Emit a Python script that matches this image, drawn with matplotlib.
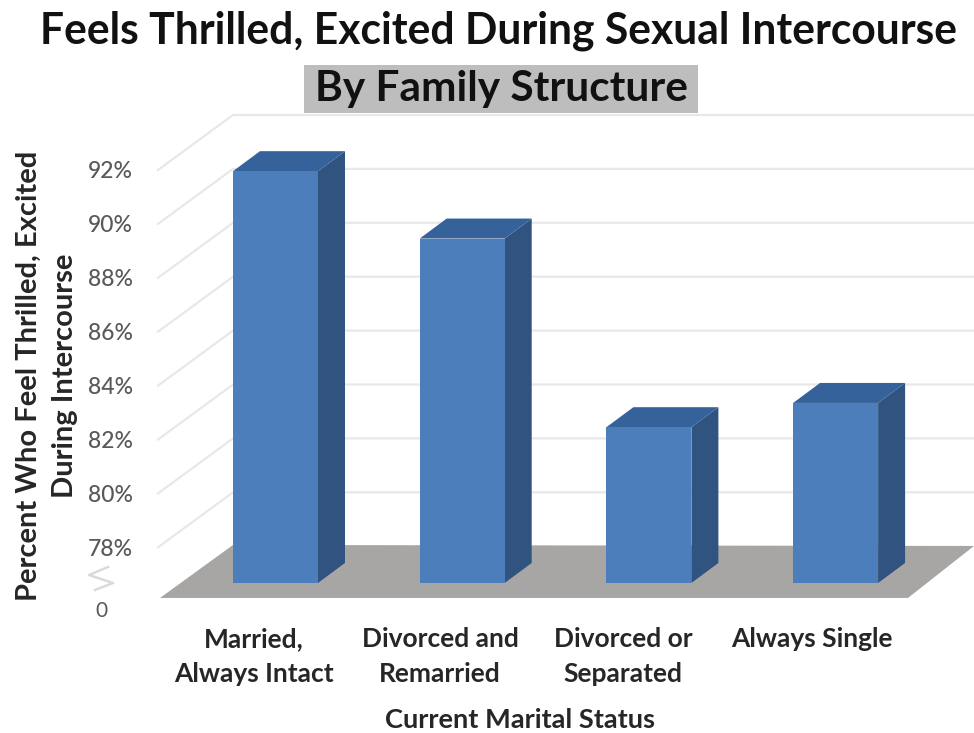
import matplotlib
matplotlib.use("Agg")
import matplotlib.pyplot as plt
from matplotlib.patches import Polygon, Rectangle

categories = ["Married,\nAlways Intact", "Divorced and\nRemarried", "Divorced or\nSeparated", "Always Single\n"]
values = [91.4, 88.9, 81.9, 82.8]
tick_values = [78, 80, 82, 84, 86, 88, 90, 92]
tick_labels = ["78%", "80%", "82%", "84%", "86%", "88%", "90%", "92%"]
floor_value = 76.12
title = "Feels Thrilled, Excited During Sexual Intercourse"
subtitle = "By Family Structure"
xlabel = "Current Marital Status"
ylabel = "Percent Who Feel Thrilled, Excited\nDuring Intercourse"

W, H = 974, 733
PX_X = 186.7      # pixels per category
PX_Y = 26.95      # pixels per percent
X0 = 275.5        # pixel of category 0 centre
Y92 = 170.0       # pixel of 92% at the front plane
plt.rcParams['font.family'] = ['Lato', 'DejaVu Sans']

fig = plt.figure(figsize=(W / 100, H / 100), dpi=100)
fig.patch.set_facecolor("white")
L, R, T, B = 158, 974, 100, 612
ax = fig.add_axes([L / W, 1 - B / H, (R - L) / W, (B - T) / H])
ax.set_xlim((L - X0) / PX_X, (R - X0) / PX_X)
ax.set_ylim(92 - (B - Y92) / PX_Y, 92 + (Y92 - T) / PX_Y)
ax.patch.set_alpha(0)
for s in ax.spines.values():
    s.set_visible(False)


def off(i, v, dx=0.0, dy=0.0):
    """Data position shifted by dx,dy pixels (dy positive = up)."""
    return (i + dx / PX_X, v + dy / PX_Y)


left_i = (158 - X0) / PX_X
right_i = (R - X0) / PX_X
GRID = "#E8E8E8"
for v in tick_values:
    a = off(left_i, v)
    b = off(left_i, v, 75, 55)
    c = (right_i, b[1])
    ax.plot([a[0], b[0], c[0]], [a[1], b[1], c[1]], color=GRID, lw=1.6, zorder=1, clip_on=False)

# floor
fl = floor_value
floor = [off(left_i, fl, 2, 0), off(left_i, fl, 750, 0), off(left_i, fl, 816, 52), off(left_i, fl, 75, 53)]
ax.add_patch(Polygon(floor, closed=True, fc="#A8A6A4", ec="none", zorder=2, clip_on=False))

# 3-D bars
FACE, SIDE, TOP = "#4C7EBC", "#30547F", "#35629A"
BW = 85
LIFT, DX, DY = 15, 27, 20
for i, v in enumerate(values):
    xl = i - (BW / 2) / PX_X
    xr = i + (BW / 2) / PX_X
    base = fl + LIFT / PX_Y
    top_v = v + LIFT / PX_Y
    ax.add_patch(Rectangle((xl, base), xr - xl, top_v - base, fc=FACE, ec="none", zorder=4))
    ax.add_patch(Polygon([(xr, base), (xr, top_v), off(xr, top_v, DX, DY), off(xr, base, DX, DY)],
                         closed=True, fc=SIDE, ec="none", zorder=3))
    ax.add_patch(Polygon([(xl, top_v), (xr, top_v), off(xr, top_v, DX, DY), off(xl, top_v, DX, DY)],
                         closed=True, fc=TOP, ec="none", zorder=3))

# axes ticks and labels
ax.set_yticks(tick_values, tick_labels, fontsize=16.5, color="#595959", fontweight="medium")
label_shift_px = [22, 22, 26, 24]
ax.set_xticks([i - s / PX_X for i, s in enumerate(label_shift_px)], categories,
              fontsize=19, fontweight="bold", color="#262626", linespacing=1.56)
ax.tick_params(axis="y", length=0, pad=18)
ax.tick_params(axis="x", length=0, pad=11)

# axis break and zero label
ax.text(101 / W, 1 - 611 / H, "0", transform=fig.transFigure, ha="center", va="center",
        fontsize=15, color="#595959")
zig_x = [108, 89, 113, 95]
zig_y = [567, 575, 583, 590]
ax.plot([(x - X0) / PX_X for x in zig_x], [92 - (y - Y92) / PX_Y for y in zig_y],
        color="#DADADA", lw=1.8, clip_on=False, zorder=1)

fig.text(499 / W, 1 - 31 / H, title, ha="center", va="center", fontsize=30.7, fontweight="bold", color="#111111")
fig.text(501 / W, 1 - 89 / H, subtitle, ha="center", va="center", fontsize=30.5, fontweight="bold", color="#111111")
fig.add_artist(Rectangle((304 / W, 1 - 113 / H), 394 / W, 48 / H, transform=fig.transFigure,
                         fc="#BDBDBD", ec="none", zorder=-1))
fig.text(520 / W, 1 - 720 / H, xlabel, ha="center", va="center", fontsize=19.6, fontweight="bold", color="#262626")
fig.text(47 / W, 1 - 376 / H, ylabel, ha="center", va="center", rotation=90, multialignment="center",
         fontsize=21, fontweight="bold", color="#262626", linespacing=1.45)

fig.savefig("out.png", dpi=100)
